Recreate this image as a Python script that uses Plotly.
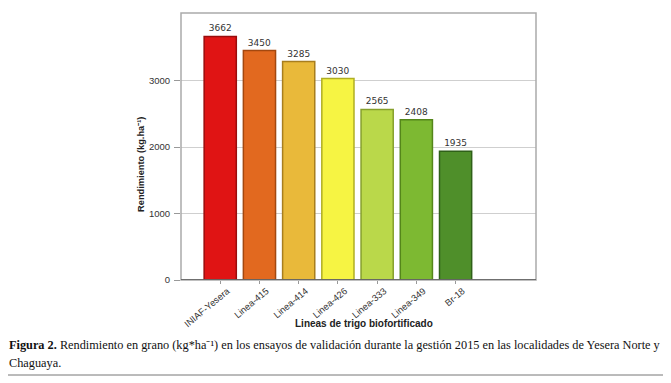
import plotly.graph_objects as go

categories = ["INIAF-Yesera", "Linea-415", "Linea-414", "Linea-426", "Linea-333", "Linea-349", "Br-18"]
values = [3662, 3450, 3285, 3030, 2565, 2408, 1935]
colors = ["#E01414", "#E2691F", "#E9B93A", "#F6F443", "#BAD84A", "#7DB932", "#4F8F2A"]
edge_colors = ["#9A0C0C", "#A3480F", "#A87E1E", "#B0AE22", "#86A02C", "#54861A", "#2F6018"]
y_ticks = [0, 1000, 2000, 3000]

OFF = 8  # page body margin
W, H = 671 - OFF, 383 - OFF
L, R, T, B = 181 - OFF, 536 - OFF, 13 - OFF, 280 - OFF

def px(x):
    return (x - OFF - L) / (R - L)

def py(y):
    return (B - (y - OFF)) / (B - T)

fig = go.Figure()
fig.add_trace(go.Bar(
    x=list(range(len(categories))), y=values,
    width=0.82,
    marker=dict(color=colors, line=dict(color=edge_colors, width=1.5)),
    text=[str(v) for v in values], textposition="outside",
    textfont=dict(family="DejaVu Sans", size=9, color="#333333"),
    cliponaxis=False,
))

fig.update_layout(
    width=W, height=H,
    margin=dict(l=L, r=W - R, t=T, b=H - B, autoexpand=False),
    paper_bgcolor="white", plot_bgcolor="white",
    showlegend=False,
    font=dict(family="Liberation Sans", color="#333333"),
    xaxis=dict(
        range=[-1, 8.05], tickmode="array",
        tickvals=list(range(len(categories))), ticktext=categories,
        tickangle=-40, tickfont=dict(size=9.3, color="#333333"),
        showgrid=False, zeroline=False, showline=False,
        ticks="outside", ticklen=3, tickcolor="#999999",
        ticklabelshift=7, ticklabelstandoff=-2,
        automargin=False,
    ),
    yaxis=dict(
        range=[0, 4015], tickmode="array", tickvals=y_ticks,
        tickfont=dict(size=9.5, color="#333333"),
        showgrid=True, gridcolor="#CFCFCF", gridwidth=1,
        zeroline=False, showline=False,
        ticks="outside", ticklen=6, tickcolor="#999999", ticklabelstandoff=2,
        automargin=False,
    ),
    annotations=[
        dict(text="<b>Rendimiento (kg.ha⁻¹)</b>", x=px(141), y=py(165),
             xref="paper", yref="paper", xanchor="center", yanchor="middle",
             textangle=-90, showarrow=False,
             font=dict(family="Liberation Sans", size=9.3, color="#222222")),
        dict(text="<b>Lineas de trigo biofortificado</b>", x=px(364), y=py(323),
             xref="paper", yref="paper", xanchor="center", yanchor="middle", showarrow=False,
             font=dict(family="Liberation Sans", size=10, color="#222222")),
        dict(text="<b>Figura 2.</b> Rendimiento en grano (kg*ha⁻¹) en los ensayos de validación durante la gestión 2015 en las localidades de Yesera Norte y",
             x=px(7), y=py(345), xref="paper", yref="paper", xanchor="left", yanchor="middle",
             showarrow=False, font=dict(family="Liberation Serif", size=12.3, color="#111111")),
        dict(text="Chaguaya.",
             x=px(7), y=py(363), xref="paper", yref="paper", xanchor="left", yanchor="middle",
             showarrow=False, font=dict(family="Liberation Serif", size=12.3, color="#111111")),
    ],
    shapes=[
        dict(type="rect", xref="paper", yref="paper", x0=0, x1=1, y0=0, y1=1,
             line=dict(color="#AAAAAA", width=1.5), layer="above"),
        dict(type="line", xref="paper", yref="y", x0=0, x1=1, y0=0, y1=0,
             line=dict(color="#555555", width=1.5), layer="above"),
        dict(type="line", xref="paper", yref="paper", x0=px(5), x1=px(666), y0=py(375), y1=py(375),
             line=dict(color="#777777", width=1)),
    ],
)

fig.write_html("out.html")
